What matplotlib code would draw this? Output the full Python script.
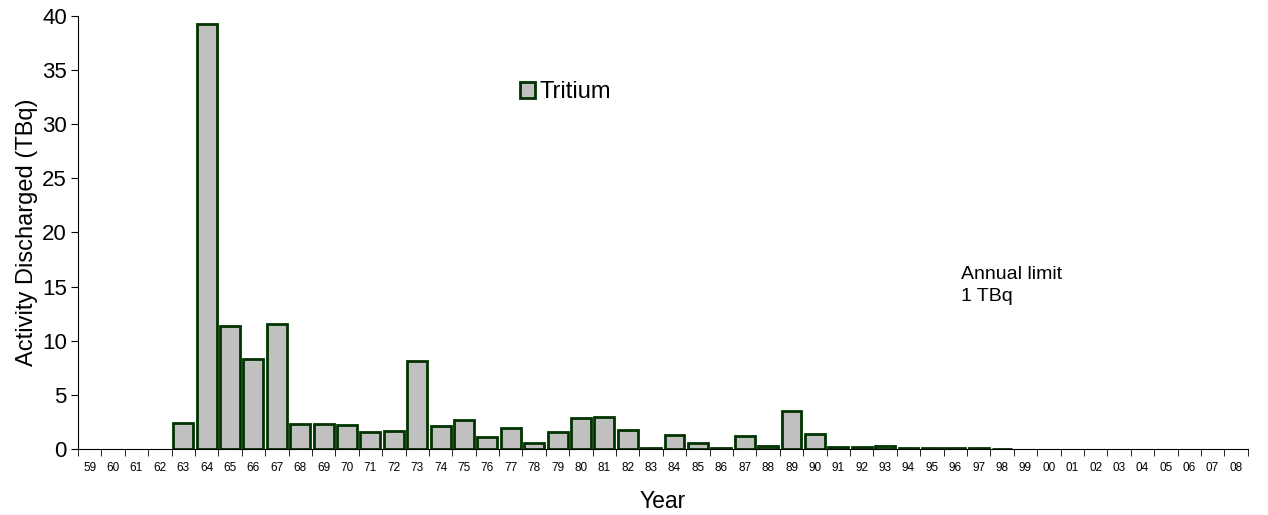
import matplotlib
matplotlib.use("Agg")
import matplotlib.pyplot as plt
import numpy as np
from matplotlib.patches import Patch

plt.rcParams["font.family"] = ["Liberation Sans", "DejaVu Sans"]

years = ["59", "60", "61", "62", "63", "64", "65", "66", "67", "68",
         "69", "70", "71", "72", "73", "74", "75", "76", "77", "78",
         "79", "80", "81", "82", "83", "84", "85", "86", "87", "88",
         "89", "90", "91", "92", "93", "94", "95", "96", "97", "98",
         "99", "00", "01", "02", "03", "04", "05", "06", "07", "08"]
tritium = [0, 0, 0, 0, 2.4, 39.2, 11.35, 8.3, 11.5, 2.35,
           2.3, 2.25, 1.6, 1.7, 8.1, 2.15, 2.65, 1.15, 1.9, 0.6,
           1.6, 2.85, 2.95, 1.75, 0.12, 1.32, 0.52, 0.12, 1.2, 0.3,
           3.5, 1.38, 0.21, 0.2, 0.3, 0.06, 0.06, 0.06, 0.08, 0.05,
           0, 0, 0, 0, 0, 0, 0, 0, 0, 0]
y_ticks = [0, 5, 10, 15, 20, 25, 30, 35, 40]

fig = plt.figure(figsize=(12.68, 5.15), dpi=100)
ax = fig.add_axes([0.0615, 0.128, 0.9225, 0.8415])

x = np.arange(len(years))
vals = np.array(tritium)
shown = vals > 0  # years with no discharge get no bar outline
ax.bar(x[shown], vals[shown], width=0.85, color="#c0c0c0", edgecolor="#003300",
       linewidth=2.0, label="Tritium")

ax.set_xlim(-0.5, len(years) - 0.5)
ax.set_ylim(0, 40)
ax.set_yticks(y_ticks)
ax.tick_params(axis="y", labelsize=16, length=5, direction="out", pad=3)

# labels at category centres, ticks on the boundaries (spreadsheet style)
ax.set_xticks(x)
ax.set_xticklabels(years, fontsize=8.5)
ax.tick_params(axis="x", which="major", length=0, pad=9)
ax.set_xticks(np.arange(-0.5, len(years)), minor=True)
ax.tick_params(axis="x", which="minor", length=5, direction="out")

ax.spines["top"].set_visible(False)
ax.spines["right"].set_visible(False)
ax.set_ylabel("Activity Discharged (TBq)", fontsize=17, labelpad=3)
ax.set_xlabel("Year", fontsize=16.5, labelpad=12)

ax.legend(handles=[Patch(facecolor="#c0c0c0", edgecolor="#003300", linewidth=2.0,
                         label="Tritium")],
          loc="upper left", bbox_to_anchor=(0.36, 0.898), frameon=False,
          fontsize=17, handlelength=0.6, handleheight=0.65, handletextpad=0.2)

ax.text(37.25, 16.9, "Annual limit\n1 TBq", fontsize=14, va="top", ha="left",
        linespacing=1.35)

fig.savefig("out.png", dpi=100)
